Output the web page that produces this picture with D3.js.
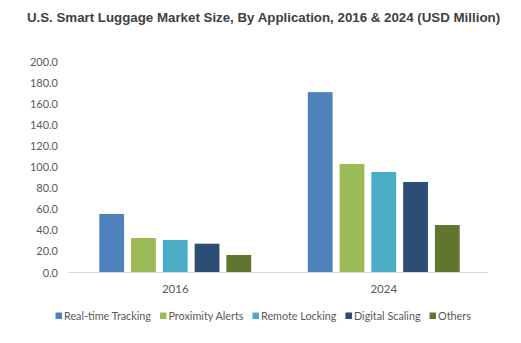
<!DOCTYPE html>
<html>
<head>
<meta charset="utf-8">
<script src="https://cdn.jsdelivr.net/npm/d3@7"></script>
<style>
  html, body { margin: 0; padding: 0; background: #fff; }
  svg { display: block; }
</style>
</head>
<body>
<script>
// Market size by application (USD Million)
const years = ["2016", "2024"];
const applications = ["Real-time Tracking", "Proximity Alerts", "Remote Locking", "Digital Scaling", "Others"];
const realTimeTracking = [55.5, 171.0];
const proximityAlerts = [32.7, 102.8];
const remoteLocking = [30.8, 95.3];
const digitalScaling = [27.3, 85.8];
const others = [16.6, 45.0];
const yTicks = [0, 20, 40, 60, 80, 100, 120, 140, 160, 180, 200];
const colors = ["#4f81bd", "#9bbb59", "#4bacc6", "#2c4d75", "#5f7530"];

const seriesValues = [realTimeTracking, proximityAlerts, remoteLocking, digitalScaling, others];

const width = 521, height = 343;
const svg = d3.select("body").append("svg")
  .attr("width", width).attr("height", height);

// Title
svg.append("text")
  .attr("x", 263.5).attr("y", 22)
  .attr("text-anchor", "middle")
  .style("font-family", "'Liberation Sans', Arial, sans-serif")
  .style("font-weight", "bold")
  .style("font-size", "13.3px")
  .style("fill", "#404040")
  .text("U.S. Smart Luggage Market Size, By Application, 2016 & 2024 (USD Million)");

const x0 = d3.scaleBand().domain(years).range([71, 488]);
const x1 = d3.scaleBand().domain(applications).range([0, x0.bandwidth()])
  .paddingInner(0.22).paddingOuter(0.89);
const y = d3.scaleLinear().domain([0, 200]).range([272.5, 61.5]);

const labelFont = "Lato, 'Open Sans', sans-serif";

// Y axis labels (no axis line)
const yAxis = d3.axisLeft(y).tickValues(yTicks).tickSize(0).tickPadding(0)
  .tickFormat(d3.format(".1f"));
const yg = svg.append("g").attr("transform", "translate(58,0)").call(yAxis);
yg.select(".domain").remove();
yg.selectAll("text")
  .style("font-family", labelFont).style("font-size", "11px").style("fill", "#595959");

// Category axis
const xAxis = d3.axisBottom(x0).tickSize(0).tickPadding(12);
const xg = svg.append("g").attr("transform", `translate(0,${y(0)})`).call(xAxis);
xg.select(".domain").remove();
xg.selectAll("text")
  .style("font-family", labelFont).style("font-size", "11.5px").style("fill", "#595959");

// Bars
const groups = svg.append("g").selectAll("g").data(years).join("g")
  .attr("transform", d => `translate(${x0(d)},0)`);
groups.selectAll("rect")
  .data((yr, i) => applications.map((app, s) => ({ app, s, v: seriesValues[s][i] })))
  .join("rect")
  .attr("x", d => x1(d.app))
  .attr("width", x1.bandwidth())
  .attr("y", d => y(d.v))
  .attr("height", d => y(0) - y(d.v))
  .attr("fill", d => colors[d.s]);

// Baseline
svg.append("line")
  .attr("x1", 68).attr("x2", 488)
  .attr("y1", y(0)).attr("y2", y(0))
  .attr("stroke", "#d9d9d9").attr("stroke-width", 1);

// Legend
const legend = svg.append("g").attr("transform", "translate(0,316)");
let lx = 55.5;
applications.forEach((app, i) => {
  const item = legend.append("g").attr("transform", `translate(${lx},0)`);
  item.append("rect").attr("x", 0).attr("y", -3.5).attr("width", 6.5).attr("height", 6.5)
    .attr("fill", colors[i]);
  const t = item.append("text").attr("x", 8.5).attr("y", 0).attr("dy", "0.35em")
    .style("font-family", labelFont).style("font-size", "10.8px").style("fill", "#595959")
    .text(app);
  lx += 8.5 + t.node().getComputedTextLength() + 9;
});
</script>
</body>
</html>
